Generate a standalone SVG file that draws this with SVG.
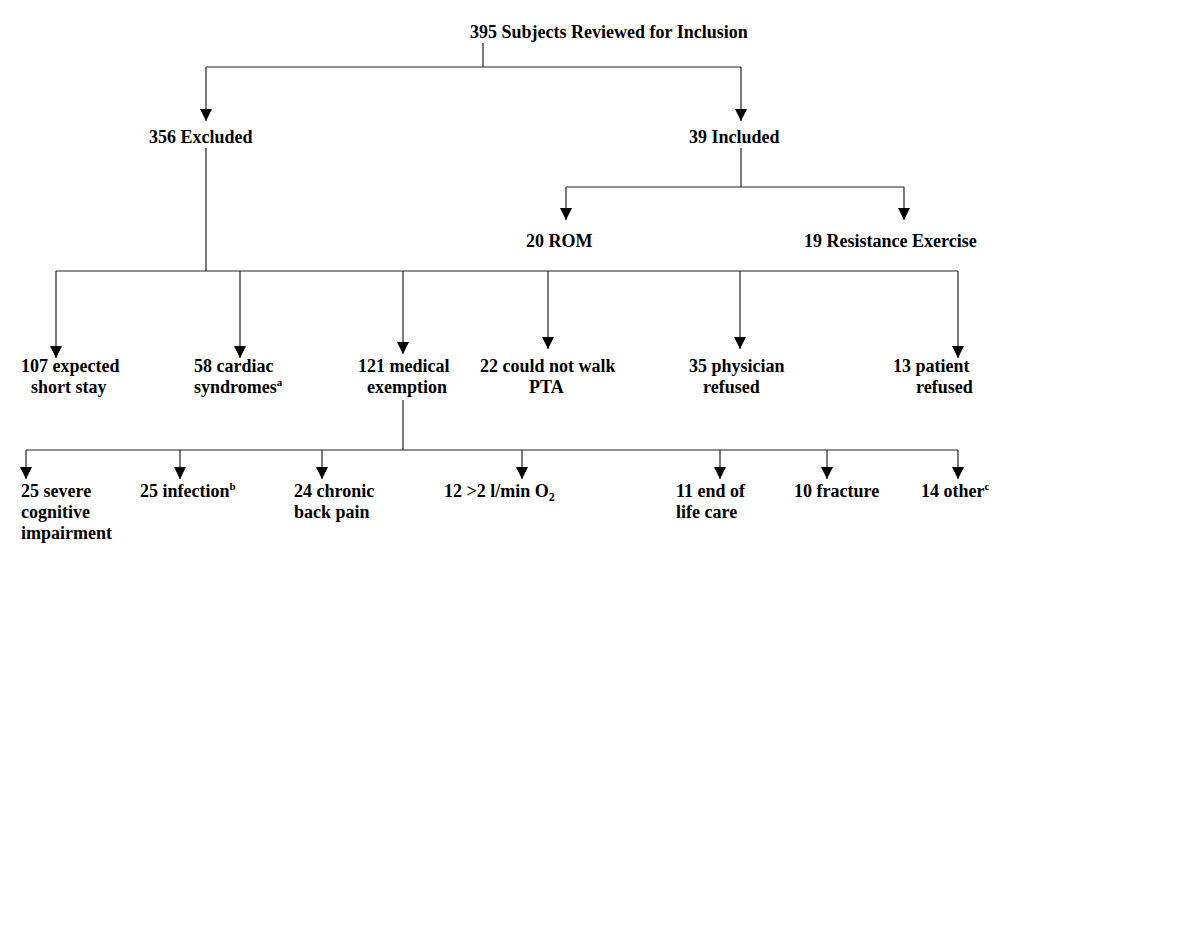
<svg xmlns="http://www.w3.org/2000/svg" width="1199" height="926" viewBox="0 0 1199 926">
<style>
text{font-family:"Liberation Serif","Times New Roman",serif;font-weight:bold;font-size:18px;fill:#000}
.l{stroke:#222;stroke-width:1.2;fill:none}
.a{stroke:#222;stroke-width:1.2;fill:none;marker-end:url(#ah)}
.sup{font-size:11px}
.sub{font-size:12px}
</style>
<defs>
<marker id="ah" markerUnits="userSpaceOnUse" markerWidth="14" markerHeight="14" viewBox="0 -7 13 14" refX="12" refY="0" orient="auto">
<path d="M0,-6 L12,0 L0,6 z" fill="#000"/>
</marker>
</defs>
<rect width="1199" height="926" fill="#fff"/>
<g id="connectors">
<path class="l" d="M483,43 V67 M206,67 H741"/>
<path class="a" d="M206,67 V121"/>
<path class="a" d="M741,67 V121"/>
<path class="l" d="M741,148 V187 M566,187 H904"/>
<path class="a" d="M566,187 V220"/>
<path class="a" d="M904,187 V220"/>
<path class="l" d="M206,148 V271 M56,271 H958"/>
<path class="a" d="M56,271 V358"/>
<path class="a" d="M240,271 V358"/>
<path class="a" d="M403,271 V354"/>
<path class="a" d="M548,271 V349"/>
<path class="a" d="M740,271 V349"/>
<path class="a" d="M958,271 V358"/>
<path class="l" d="M403,400 V450 M26,450 H958"/>
<path class="a" d="M26,450 V479"/>
<path class="a" d="M180,450 V479"/>
<path class="a" d="M322,450 V479"/>
<path class="a" d="M522,450 V479"/>
<path class="a" d="M720,450 V479"/>
<path class="a" d="M827,450 V479"/>
<path class="a" d="M958,450 V479"/>
</g>
<g id="n-reviewed"><text x="470" y="38">395 Subjects Reviewed for Inclusion</text></g>
<g id="n-excluded"><text x="149" y="143">356 Excluded</text></g>
<g id="n-included"><text x="689" y="143">39 Included</text></g>
<g id="n-rom"><text x="526" y="247">20 ROM</text></g>
<g id="n-resistance"><text x="804" y="247">19 Resistance Exercise</text></g>
<g id="n-short"><text x="21" y="372">107 expected</text><text x="31" y="393">short stay</text></g>
<g id="n-cardiac"><text x="194" y="372">58 cardiac</text><text x="194" y="393">syndromes<tspan class="sup" dy="-7">a</tspan></text></g>
<g id="n-medical"><text x="358" y="372">121 medical</text><text x="367" y="393">exemption</text></g>
<g id="n-walk"><text x="480" y="372">22 could not walk</text><text x="529" y="393">PTA</text></g>
<g id="n-physician"><text x="689" y="372">35 physician</text><text x="703" y="393">refused</text></g>
<g id="n-patient"><text x="893" y="372">13 patient</text><text x="916" y="393">refused</text></g>
<g id="n-cognitive"><text x="21" y="497">25 severe</text><text x="21" y="518">cognitive</text><text x="21" y="539">impairment</text></g>
<g id="n-infection"><text x="140" y="497">25 infection<tspan class="sup" dy="-7">b</tspan></text></g>
<g id="n-back"><text x="294" y="497">24 chronic</text><text x="294" y="518">back pain</text></g>
<g id="n-o2"><text x="444" y="497">12 &gt;2 l/min O<tspan class="sub" dy="4">2</tspan></text></g>
<g id="n-endlife"><text x="676" y="497">11 end of</text><text x="676" y="518">life care</text></g>
<g id="n-fracture"><text x="794" y="497">10 fracture</text></g>
<g id="n-other"><text x="921" y="497">14 other<tspan class="sup" dy="-7">c</tspan></text></g>
</svg>
